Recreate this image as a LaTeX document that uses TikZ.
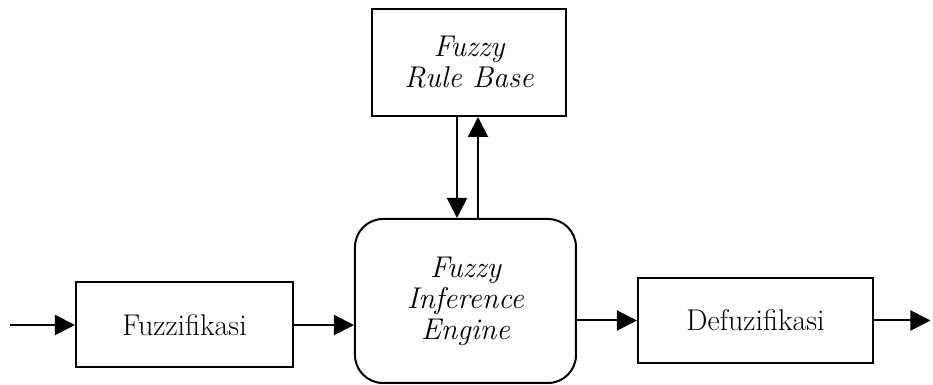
\documentclass[tikz,border=0pt]{standalone}
\usepackage{tikz}
\usetikzlibrary{shapes,arrows.meta,positioning}
\tikzstyle{block} = [rectangle, draw, line width=1pt, text centered, inner sep=0pt]
\tikzstyle{engine} = [rectangle, draw, line width=1pt, rounded corners=14pt, text centered, inner sep=0pt]
\tikzstyle{line} = [draw, line width=1pt, -{Triangle[length=10pt,width=10pt]}]
\tikzstyle{every node}=[font=\fontsize{15}{15.5}\selectfont]

\begin{document}
\begin{tikzpicture}[node distance = 140pt, auto]
    \useasboundingbox (-232.75pt,-42pt) rectangle (233.75pt,150.5pt);
    % Place nodes
    \node [engine, minimum width=110.5pt, minimum height=82pt, align=center] (engine) {\itshape Fuzzy\\ \itshape Inference\\ \itshape Engine};
    \node [block, above of=engine, node distance=119.25pt, xshift=1.75pt, minimum width=97pt, minimum height=53.5pt, align=center] (rulebase) {\itshape Fuzzy\\ \itshape Rule Base};
    \node [block, left of=engine, node distance=140.5pt, yshift=-12pt, minimum width=108.5pt, minimum height=42.5pt] (fuzzifikasi) {Fuzzifikasi};
    \node [block, right of=engine, node distance=145pt, yshift=-9.75pt, minimum width=117.5pt, minimum height=42.5pt] (defuzifikasi) {Defuzifikasi};
    \coordinate [left of=fuzzifikasi, node distance=87.25pt] (input);
    \coordinate [right of=defuzifikasi, node distance=87.5pt] (output);

    % Draw edges
    \path [line] (input) -- (fuzzifikasi);
    \path [line] (fuzzifikasi) -- (fuzzifikasi -| engine.west);
    \path [line] ([xshift=-6pt]rulebase.south) -- ([xshift=-6pt]rulebase.south |- engine.north);
    \path [line] ([xshift=4.5pt]rulebase.south |- engine.north) -- ([xshift=4.5pt]rulebase.south);
    \path [line] (engine.east |- defuzifikasi) -- (defuzifikasi);
    \path [line] (defuzifikasi) -- (output);

\end{tikzpicture}
\end{document}
